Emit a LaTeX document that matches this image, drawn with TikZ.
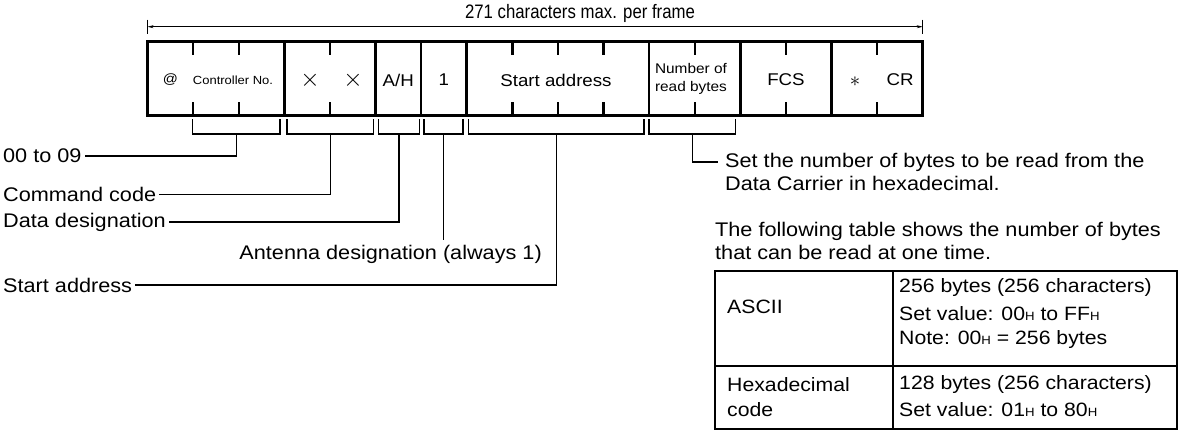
\documentclass[tikz,border=0pt]{standalone}
\usepackage{fontspec}
\setmainfont{Liberation Sans}[FakeStretch=1.1]
\newfontfamily\narrowfont{Liberation Sans}[FakeStretch=0.86]
\usetikzlibrary{arrows.meta}

\newcommand{\hexH}{{\fontsize{12}{12}\selectfont H}}

\tikzset{
  frameline/.style={line width=2.6pt},
  tickline/.style={line width=2.4pt},
  brline/.style={line width=1.1pt},
  lbl/.style={inner xsep=3pt, inner ysep=0pt, font=\fontsize{19.7}{21}\selectfont},
  celltxt/.style={inner sep=0pt, font=\fontsize{17}{19}\selectfont},
  smalltxt/.style={inner sep=0pt, font=\fontsize{11.8}{13}\selectfont},
  tabtxt/.style={inner sep=0pt, anchor=west, font=\fontsize{19.3}{21}\selectfont}
}

\begin{document}
\begin{tikzpicture}[x=1pt,y=-1pt]
  \useasboundingbox (0,0) rectangle (1185,436);

  % overall length of the frame
  \node[inner sep=0pt, font=\narrowfont\fontsize{19.5}{21}\selectfont] (maxlen) at (580,13) {271 characters max. per frame};
  \coordinate (fl) at (147.5,26.7);
  \coordinate (fr) at (922.7,26.7);
  \draw[line width=0.9pt] ([yshift=7pt]fl) -- ([yshift=-7pt]fl);
  \draw[line width=0.9pt] ([yshift=7pt]fr) -- ([yshift=-7pt]fr);
  \draw[line width=0.9pt, {Stealth[length=6pt,width=3pt]}-{Stealth[length=6pt,width=3pt]}] (fl) -- (fr);

  % frame, one tick per character
  \foreach \i in {1,2,4,8,9,10,12,14,16} {
    \draw[tickline] (147.5+\i*45.6,41.5) -- ++(0,14);
    \draw[tickline] (147.5+\i*45.6,115.5) -- ++(0,-14);
  }
  \foreach \i in {3,5,6,7,11,13,15}
    \draw[frameline] (147.5+\i*45.6,41.5) -- (147.5+\i*45.6,115.5);
  \draw[frameline] (147.5,41.5) rectangle (922.7,115.5);

  % texts in the frame
  \node[smalltxt, font=\fontsize{13.5}{14}\selectfont] (at) at (170.3,80) {@};
  \node[smalltxt] (ctrl) at (233,80) {Controller No.};
  \node[celltxt, font=\fontsize{24}{24}\selectfont] (x1) at (310,80) {$\times$};
  \node[celltxt, font=\fontsize{24}{24}\selectfont] (x2) at (353,80) {$\times$};
  \node[celltxt] (ah) at (398.3,80) {A/H};
  \node[celltxt] (one) at (443.9,80) {1};
  \node[celltxt] (sadr) at (556,80) {Start address};
  \node[smalltxt, align=center, font=\fontsize{14}{18.3}\selectfont] (nrb) at (691,79) {Number of\\read bytes};
  \node[celltxt] (fcs) at (786,80) {FCS};
  \node[celltxt, font=\fontsize{20}{20}\selectfont] (ast) at (855,82) {$\ast$};
  \node[celltxt] (cr) at (900,80) {CR};

  % brackets under the frame
  \foreach \a/\b/\n in {192.7/280/bc1, 287/373.3/bc2, 378.7/419.3/bc3, 424/463/bc4, 468.5/644/bc5, 649/735.7/bc6} {
    \draw[brline] (\a,119) -- (\a,134) -- (\b,134) -- (\b,119);
    \coordinate (\n) at ({(\a+\b)/2},134);
  }

  % labels
  \node[lbl, anchor=west] (zero) at (0,156) {00 to 09};
  \node[lbl, anchor=west] (cmd) at (0,194.5) {Command code};
  \node[lbl, anchor=west] (datad) at (0,222) {Data designation};
  \node[lbl, anchor=east] (ant) at (545,254) {Antenna designation (always 1)};
  \node[lbl, anchor=west] (start) at (0,285) {Start address};
  \draw[brline] (bc1) |- (zero.east);
  \draw[brline] (bc2) |- (cmd.east);
  \draw[brline] (bc3) |- (datad.east);
  \draw[brline] (bc4) -- ([yshift=5pt]bc4 |- ant.north);
  \draw[brline] (bc5) |- (start.east);

  \node[lbl, anchor=west] (setn) at (722,162) {Set the number of bytes to be read from the};
  \node[lbl, anchor=west] (setn2) at (722,183) {Data Carrier in hexadecimal.};
  \draw[brline] (bc6) |- ([xshift=-4pt]setn.west);

  \node[lbl, anchor=west] (foll) at (712,231) {The following table shows the number of bytes};
  \node[lbl, anchor=west] (foll2) at (712,252) {that can be read at one time.};

  % table of readable bytes
  \draw[line width=1.6pt] (715,270.7) rectangle (1177,429);
  \draw[line width=1.6pt] (892.7,270.7) -- (892.7,429);
  \draw[line width=1.6pt] (715,366) -- (1177,366);
  \node[tabtxt] (ascii) at (727,307) {ASCII};
  \node[tabtxt] (a1) at (899,288) {256 bytes (256 characters)};
  \node[tabtxt] (a2) at (899,314) {Set value: 00\hexH{} to FF\hexH};
  \node[tabtxt] (a3) at (899,340) {Note: 00\hexH{} = 256 bytes};
  \node[tabtxt] (hex1) at (727,385) {Hexadecimal};
  \node[tabtxt] (hex2) at (727,410) {code};
  \node[tabtxt] (h1) at (899,385) {128 bytes (256 characters)};
  \node[tabtxt] (h2) at (899,410) {Set value: 01\hexH{} to 80\hexH};
\end{tikzpicture}
\end{document}
